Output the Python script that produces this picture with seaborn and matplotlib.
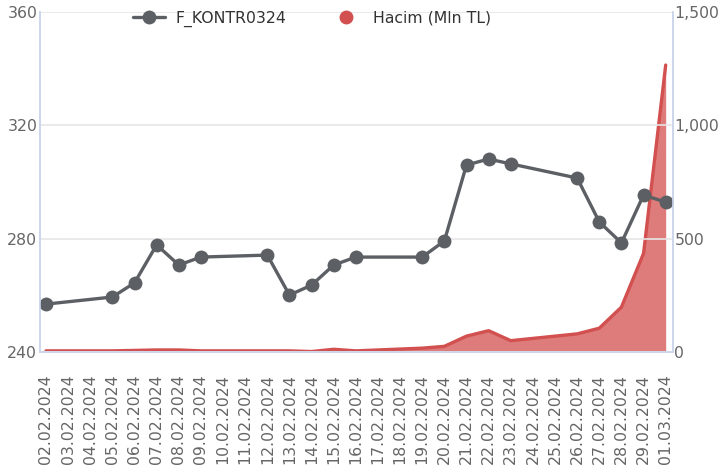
import pandas as pd
import numpy as np
import matplotlib
matplotlib.use("Agg")
import matplotlib.pyplot as plt
from matplotlib.lines import Line2D
from matplotlib.ticker import FuncFormatter
import seaborn as sns

# Daily dates, weekends have no trading (NaN) and the lines just connect over them
dates = ["02.02.2024", "03.02.2024", "04.02.2024", "05.02.2024", "06.02.2024", "07.02.2024",
         "08.02.2024", "09.02.2024", "10.02.2024", "11.02.2024", "12.02.2024", "13.02.2024",
         "14.02.2024", "15.02.2024", "16.02.2024", "17.02.2024", "18.02.2024", "19.02.2024",
         "20.02.2024", "21.02.2024", "22.02.2024", "23.02.2024", "24.02.2024", "25.02.2024",
         "26.02.2024", "27.02.2024", "28.02.2024", "29.02.2024", "01.03.2024"]
nan = np.nan
price = [256.9, nan, nan, 259.4, 264.4, 277.8, 270.7, 273.5, nan, nan, 274.2, 260.1,
         263.6, 270.7, 273.5, nan, nan, 273.5, 279.2, 306.0, 308.1, 306.4, nan, nan,
         301.4, 285.9, 278.5, 295.4, 292.9]
volume = [5, nan, nan, 5, 7, 9, 9, 5, nan, nan, 5, 5,
          2, 12, 5, nan, nan, 17, 25, 70, 94, 50, nan, nan,
          80, 105, 198, 435, 1266]

series_price = "F_KONTR0324"
series_vol = "Hacim (Mln TL)"

price_color = "#5c5f64"
vol_color = "#d2504f"
axis_color = "#ccd6eb"
label_color = "#666666"

df = pd.DataFrame({"pos": np.arange(len(dates)), "date": dates, "price": price, "volume": volume})

sns.set_style("white")
plt.rcParams["font.family"] = ["DejaVu Sans"]

fig, ax = plt.subplots(figsize=(7.19, 4.72), dpi=100)
fig.subplots_adjust(left=40/719, right=673/719, top=1-12/472, bottom=1-352/472)
ax2 = ax.twinx()

# Volume area on right axis
vol = df.dropna(subset=["volume"])
ax2.fill_between(vol["pos"], vol["volume"], 0, color=vol_color, alpha=0.75, linewidth=0)
sns.lineplot(data=vol, x="pos", y="volume", ax=ax2, color=vol_color, linewidth=2.4)
ax2.set_ylim(0, 1500)
ax2.set_yticks([0, 500, 1000, 1500])
ax2.yaxis.set_major_formatter(FuncFormatter(lambda v, p: f"{v:,.0f}"))

# Price line on left axis, drawn on top
pr = df.dropna(subset=["price"])
sns.lineplot(data=pr, x="pos", y="price", ax=ax, color=price_color, linewidth=2.4,
             marker="o", markersize=10, markeredgewidth=0)
ax.set_ylim(240, 360)
ax.set_yticks([240, 280, 320, 360])
ax.set_zorder(ax2.get_zorder() + 1)
ax.patch.set_visible(False)

ax.set_xlim(-0.27, len(dates) - 1 + 0.33)
ax.set_xticks(df["pos"])
ax.set_xticklabels(dates, rotation=90, va="top", ha="center")

ax.grid(axis="y", color="#e6e6e6", linewidth=1.2)
ax.set_axisbelow(True)
for a in (ax, ax2):
    a.set_xlabel("")
    a.set_ylabel("")
    for s in a.spines.values():
        s.set_color(axis_color)
        s.set_linewidth(1.2)
    a.spines["top"].set_visible(False)
    a.tick_params(axis="y", length=0, labelsize=11.3, labelcolor=label_color, pad=2)
ax2.tick_params(axis="y", pad=1)
ax.tick_params(axis="x", direction="out", length=13, width=1.2, color=axis_color,
               labelsize=11.3, labelcolor=label_color, pad=3)

handles = [
    Line2D([], [], color=price_color, linewidth=2.4, marker="o", markersize=10, markeredgewidth=0),
    Line2D([], [], color=vol_color, linestyle="none", marker="o", markersize=10, markeredgewidth=0),
]
fig.legend(handles, [series_price, series_vol], loc="center", bbox_to_anchor=(312/719, 1-19/472),
           ncol=2, frameon=False, fontsize=11.3, labelcolor="#333333", handlelength=2.0,
           columnspacing=2.8, handletextpad=0.7)

fig.savefig("out.png", dpi=100)
